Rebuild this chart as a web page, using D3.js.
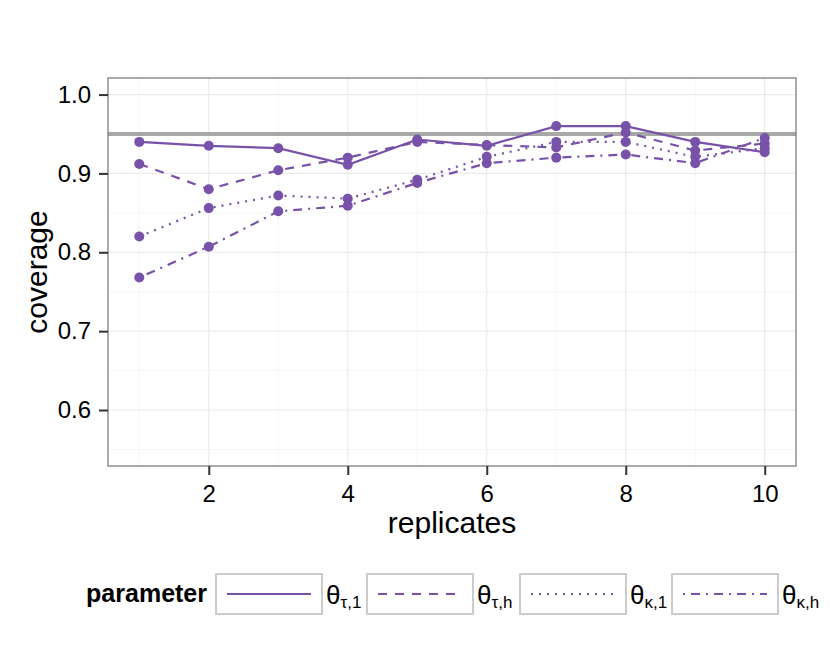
<!DOCTYPE html>
<html lang="en">
<head>
    <meta charset="UTF-8">
    <title>Coverage by replicates</title>
    <script src="https://d3js.org/d3.v7.min.js"></script>
    <style>
        body {
            margin: 0;
            font-family: "Liberation Sans", Arial, sans-serif;
            background: white;
        }
        svg {
            display: block;
        }
        .grid-major line {
            stroke: #ebebeb;
            stroke-width: 1.2px;
        }
        .grid-minor line {
            stroke: #f6f6f6;
            stroke-width: 1px;
        }
        .tick-label {
            font-size: 24px;
            fill: #000;
        }
        .axis-title {
            font-size: 30px;
            fill: #000;
        }
    </style>
</head>
<body>
    <svg id="chart" width="830" height="664"></svg>
    <script>
        // values
        var replicates = [1, 2, 3, 4, 5, 6, 7, 8, 9, 10];
        var thetaTau1 = [0.940, 0.935, 0.932, 0.911, 0.943, 0.935, 0.960, 0.960, 0.940, 0.927];
        var thetaTauH = [0.912, 0.880, 0.904, 0.920, 0.940, 0.936, 0.933, 0.952, 0.929, 0.938];
        var thetaKappa1 = [0.820, 0.856, 0.872, 0.868, 0.892, 0.921, 0.940, 0.940, 0.921, 0.932];
        var thetaKappaH = [0.768, 0.807, 0.852, 0.859, 0.888, 0.913, 0.920, 0.924, 0.913, 0.945];
        var nominal = 0.95;

        var xTicks = [2, 4, 6, 8, 10];
        var xMinor = [1, 3, 5, 7, 9];
        var yTicks = [0.6, 0.7, 0.8, 0.9, 1.0];
        var yMinor = [0.55, 0.65, 0.75, 0.85, 0.95];

        var seriesNames = ["tau,1", "tau,h", "kappa,1", "kappa,h"];
        var subLabels = ["\u03c4,1", "\u03c4,h", "\u03ba,1", "\u03ba,h"];
        var dashes = [null, "9,8", "2,6", "2,6,9,6"];
        var seriesValues = [thetaTau1, thetaTauH, thetaKappa1, thetaKappaH];

        var purple = "#7851a9";

        var margin = {top: 78, right: 34, bottom: 198, left: 108},
            width = 830 - margin.left - margin.right,
            height = 664 - margin.top - margin.bottom;

        var x = d3.scaleLinear().domain([0.55, 10.45]).range([0, width]),
            y = d3.scaleLinear().domain([0.529, 1.021]).range([height, 0]);

        var svg = d3.select("#chart")
          .append("g")
            .attr("transform", "translate(" + margin.left + "," + margin.top + ")");

        // minor grid
        var minor = svg.append("g").attr("class", "grid-minor");
        minor.selectAll(".vx").data(xMinor).enter().append("line")
            .attr("x1", function(d) { return x(d); })
            .attr("x2", function(d) { return x(d); })
            .attr("y1", 0).attr("y2", height);
        minor.selectAll(".hy").data(yMinor).enter().append("line")
            .attr("y1", function(d) { return y(d); })
            .attr("y2", function(d) { return y(d); })
            .attr("x1", 0).attr("x2", width);

        // major grid
        var major = svg.append("g").attr("class", "grid-major");
        major.selectAll(".vx").data(xTicks).enter().append("line")
            .attr("x1", function(d) { return x(d); })
            .attr("x2", function(d) { return x(d); })
            .attr("y1", 0).attr("y2", height);
        major.selectAll(".hy").data(yTicks).enter().append("line")
            .attr("y1", function(d) { return y(d); })
            .attr("y2", function(d) { return y(d); })
            .attr("x1", 0).attr("x2", width);

        // nominal coverage line
        svg.append("line")
            .attr("x1", 0).attr("x2", width)
            .attr("y1", y(nominal)).attr("y2", y(nominal))
            .attr("stroke", "#a8a8a8")
            .attr("stroke-width", 4);

        var line = d3.line()
            .x(function(d, i) { return x(replicates[i]); })
            .y(function(d) { return y(d); });

        seriesValues.forEach(function(vals, k) {
            svg.append("path")
                .datum(vals)
                .attr("fill", "none")
                .attr("stroke", purple)
                .attr("stroke-width", 2.2)
                .attr("stroke-dasharray", dashes[k])
                .attr("d", line);
        });

        seriesValues.forEach(function(vals) {
            svg.selectAll(null)
                .data(vals)
              .enter().append("circle")
                .attr("r", 5)
                .attr("cx", function(d, i) { return x(replicates[i]); })
                .attr("cy", function(d) { return y(d); })
                .attr("fill", purple);
        });

        // panel border
        svg.append("rect")
            .attr("width", width).attr("height", height)
            .attr("fill", "none")
            .attr("stroke", "#7f7f7f")
            .attr("stroke-width", 1.3);

        // x axis
        var xAxis = svg.append("g")
            .attr("transform", "translate(0," + height + ")")
            .call(d3.axisBottom(x).tickValues(xTicks).tickSize(9).tickSizeOuter(0).tickPadding(10));
        xAxis.select(".domain").remove();
        xAxis.selectAll(".tick line").attr("stroke", "#333").attr("stroke-width", 2);
        xAxis.selectAll(".tick text").attr("class", "tick-label")
            .attr("font-family", null).attr("font-size", null);

        // y axis
        var yAxis = svg.append("g")
            .call(d3.axisLeft(y).tickValues(yTicks).tickFormat(d3.format(".1f")).tickSize(9).tickSizeOuter(0).tickPadding(8));
        yAxis.select(".domain").remove();
        yAxis.selectAll(".tick line").attr("stroke", "#333").attr("stroke-width", 2);
        yAxis.selectAll(".tick text").attr("class", "tick-label")
            .attr("font-family", null).attr("font-size", null);

        // axis titles
        svg.append("text")
            .attr("class", "axis-title")
            .attr("x", width / 2)
            .attr("y", 455)
            .style("text-anchor", "middle")
            .text("replicates");

        svg.append("text")
            .attr("class", "axis-title")
            .attr("transform", "rotate(-90)")
            .attr("x", -height / 2)
            .attr("y", -61)
            .style("text-anchor", "middle")
            .text("coverage");

        // legend
        var legend = d3.select("#chart").append("g")
            .attr("transform", "translate(0,594)");

        legend.append("text")
            .attr("x", 207)
            .attr("y", 8)
            .style("text-anchor", "end")
            .style("font-weight", "bold")
            .style("font-size", "25px")
            .text("parameter");

        var keyX = [216, 367, 520, 672];
        var boxW = 106, boxH = 40;

        seriesNames.forEach(function(name, k) {
            var g = legend.append("g").attr("transform", "translate(" + keyX[k] + ",0)");
            g.append("rect")
                .attr("x", 0).attr("y", -boxH / 2)
                .attr("width", boxW).attr("height", boxH)
                .attr("fill", "white")
                .attr("stroke", "#cccccc")
                .attr("stroke-width", 2);
            g.append("line")
                .attr("x1", 11).attr("x2", boxW - 11)
                .attr("y1", 0).attr("y2", 0)
                .attr("stroke", purple)
                .attr("stroke-width", 2.2)
                .attr("stroke-dasharray", dashes[k]);
            var t = g.append("text")
                .attr("x", boxW + 4)
                .attr("y", 10)
                .style("font-size", "26px");
            t.append("tspan").text("\u03b8");
            t.append("tspan")
                .attr("dy", 4)
                .style("font-size", "17px")
                .text(subLabels[k]);
        });
    </script>
</body>
</html>
